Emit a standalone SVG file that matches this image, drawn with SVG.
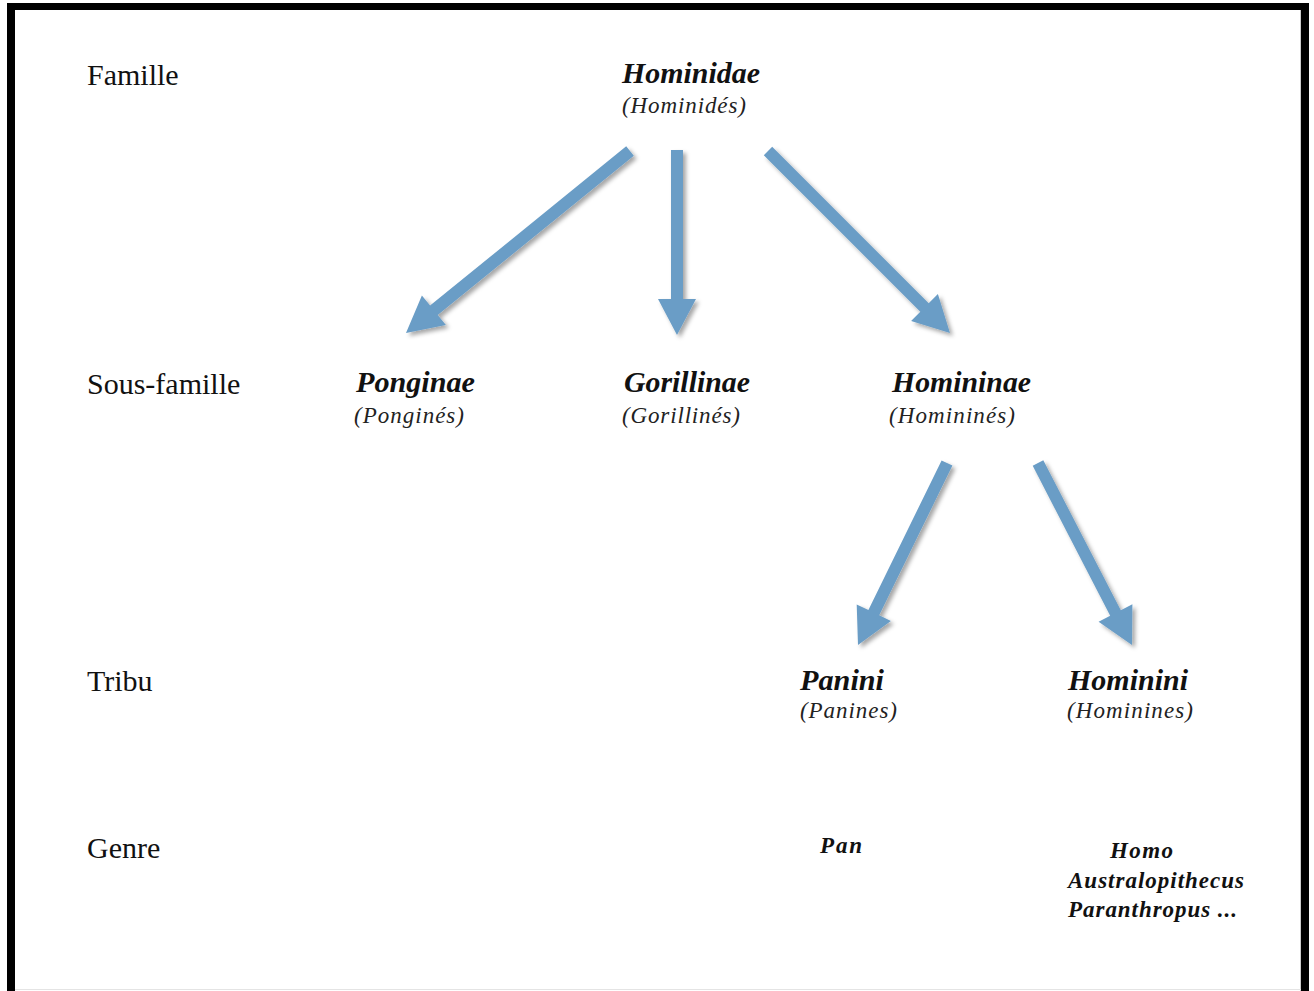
<svg xmlns="http://www.w3.org/2000/svg" width="1314" height="991" viewBox="0 0 1314 991">
<style>
text{font-family:'Liberation Serif','Times New Roman',Times,serif}
.lbl{font-size:30px;fill:#111}
.nm{font-size:30px;font-weight:bold;font-style:italic;fill:#111}
.fr{font-size:23px;font-style:italic;fill:#222}
.gn{font-size:23px;font-weight:bold;font-style:italic;fill:#111}
.arr{fill:#6a9dc6;filter:url(#sh)}
</style>
<defs>
<filter id="sh" x="-20%" y="-20%" width="140%" height="140%">
<feDropShadow dx="3" dy="3" stdDeviation="2" flood-color="#000" flood-opacity="0.35"/>
</filter>
</defs>
<rect x="0" y="0" width="1314" height="991" fill="#fff"/>
<rect x="7" y="3" width="1302" height="995" fill="#000"/>
<rect x="15" y="10" width="1286" height="981" fill="#fff"/>
<line x1="1300.5" y1="10" x2="1300.5" y2="991" stroke="#ccc" stroke-width="1"/>
<line x1="15" y1="989.5" x2="1301" y2="989.5" stroke="#e4e4e4" stroke-width="1"/>

<g id="levels">
<text class="lbl" x="87" y="85">Famille</text>
<text class="lbl" x="87" y="394">Sous-famille</text>
<text class="lbl" x="87" y="691">Tribu</text>
<text class="lbl" x="87" y="858">Genre</text>
</g>

<g id="hominidae">
<text class="nm" x="622" y="83" textLength="138" lengthAdjust="spacingAndGlyphs">Hominidae</text>
<text class="fr" x="622" y="113" textLength="124" lengthAdjust="spacing">(Hominidés)</text>
</g>
<g id="ponginae">
<text class="nm" x="356" y="392" textLength="119" lengthAdjust="spacingAndGlyphs">Ponginae</text>
<text class="fr" x="354" y="423" textLength="110" lengthAdjust="spacing">(Ponginés)</text>
</g>
<g id="gorillinae">
<text class="nm" x="624" y="392" textLength="126" lengthAdjust="spacingAndGlyphs">Gorillinae</text>
<text class="fr" x="622" y="423" textLength="118" lengthAdjust="spacing">(Gorillinés)</text>
</g>
<g id="homininae">
<text class="nm" x="892" y="392" textLength="139" lengthAdjust="spacingAndGlyphs">Homininae</text>
<text class="fr" x="889" y="423" textLength="126" lengthAdjust="spacing">(Homininés)</text>
</g>
<g id="panini">
<text class="nm" x="800" y="690" textLength="84" lengthAdjust="spacingAndGlyphs">Panini</text>
<text class="fr" x="800" y="718" textLength="97" lengthAdjust="spacing">(Panines)</text>
</g>
<g id="hominini">
<text class="nm" x="1068" y="690" textLength="120" lengthAdjust="spacingAndGlyphs">Hominini</text>
<text class="fr" x="1067" y="718" textLength="126" lengthAdjust="spacing">(Hominines)</text>
</g>
<g id="pan">
<text class="gn" x="820" y="853" textLength="42" lengthAdjust="spacing">Pan</text>
</g>
<g id="homo-genera">
<text class="gn" x="1110" y="858" textLength="63" lengthAdjust="spacing">Homo</text>
<text class="gn" x="1068" y="888" textLength="176" lengthAdjust="spacing">Australopithecus</text>
<text class="gn" x="1068" y="917" textLength="169" lengthAdjust="spacing">Paranthropus ...</text>
</g>

<g id="connectors">
<polygon class="arr" points="626.2,146.3 430.1,305.6 421.9,295.6 406,333 445.9,325 437.7,315 633.8,155.7"/>
<polygon class="arr" points="671,150 671,299 658,299 677,335 696,299 683,299 683,150"/>
<polygon class="arr" points="763.8,155.2 920.3,311.7 911.1,320.9 950,333 937.9,294.1 928.7,303.3 772.2,146.8"/>
<polygon class="arr" points="941.6,460.4 868.4,610.1 856.7,604.4 858,645 890.9,621 879.2,615.3 952.4,465.6"/>
<polygon class="arr" points="1032.7,465.8 1110.2,615.8 1098.6,621.7 1132,645 1132.4,604.3 1120.8,610.2 1043.3,460.2"/>
</g>
</svg>
